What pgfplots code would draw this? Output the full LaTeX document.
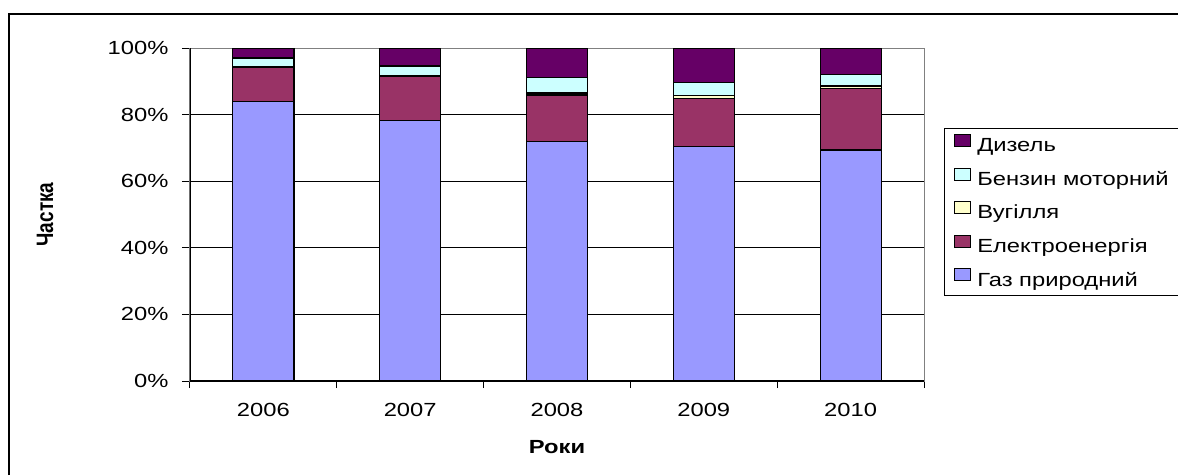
\documentclass[border=0pt]{standalone}
\usepackage{fontspec}
\setmainfont{Liberation Sans}
\usepackage{graphicx}
\usepackage{pgfplots}
\pgfplotsset{compat=1.18}
\definecolor{cgas}{HTML}{9999FF}
\definecolor{celec}{HTML}{993366}
\definecolor{ccoal}{HTML}{FFFFCC}
\definecolor{cbenz}{HTML}{CCFFFF}
\definecolor{cdies}{HTML}{660066}
\newcommand{\sx}[1]{\scalebox{1.25}[1]{#1}}
\newcommand{\fnt}{\fontsize{19}{22}\selectfont}
\begin{document}
\begin{tikzpicture}[x=1pt,y=1pt]
\useasboundingbox (0,0) rectangle (1178,475);
\draw[line width=2pt] (9,0) -- (9,461) -- (1178,461);
\begin{axis}[
  at={(190pt,94pt)}, anchor=south west,
  scale only axis, width=734pt, height=333pt,
  ybar stacked, bar width=61pt,
  xmin=-0.5, xmax=4.5, ymin=0, ymax=100,
  xtick={0,1,2,3,4},
  xticklabels={\sx{2006},\sx{2007},\sx{2008},\sx{2009},\sx{2010}},
  minor xtick={-0.5,0.5,1.5,2.5,3.5,4.5},
  ytick={0,20,40,60,80,100},
  xtick pos=bottom, ytick pos=left,
  /pgf/number format/assume math mode=true,
  yticklabel={\sx{\pgfmathprintnumber{\tick}\%}},
  tick align=outside,
  x tick style={draw=none},
  minor x tick style={draw=black, line width=1pt},
  minor tick length=7pt,
  y tick style={draw=black, line width=1pt},
  major tick length=8pt,
  ymajorgrids, grid style={black, line width=0.8pt},
  axis line style={draw=gray, line width=1pt},
  tick label style={font=\fnt},
  yticklabel style={xshift=-10pt},
  xticklabel style={yshift=-11pt},
  xlabel={\sx{\bfseries Роки}},
  ylabel={\scalebox{1}[1.25]{\bfseries Частка}},
  label style={font=\fnt},
  xlabel style={at={(axis description cs:0.5,-0.198)}, anchor=center},
  ylabel style={at={(axis description cs:-0.1975,0.5)}, anchor=center},
  legend style={at={(axis description cs:1.0272,0.7598)}, anchor=north west,
    draw=black, line width=1pt, font=\fnt, inner xsep=10pt, inner ysep=6pt,
    row sep=12.5pt, cells={anchor=west},
    /tikz/every odd column/.append style={column sep=4pt}},
  legend image code/.code={\draw[#1, draw=black, line width=0.8pt] (0pt,-1pt) rectangle (16pt,11pt);},
  reverse legend,
  every axis plot/.append style={draw=black, line width=1.2pt},
]
\addplot[fill=cgas] coordinates {(0,83.9) (1,78.2) (2,71.9) (3,70.4) (4,69.4)};
\addlegendentry{\sx{Газ природний}}
\addplot[fill=celec] coordinates {(0,10.4) (1,13.3) (2,14.0) (3,14.4) (4,18.4)};
\addlegendentry{\sx{Електроенергія}}
\addplot[fill=ccoal] coordinates {(0,0.2) (1,0.2) (2,0.6) (3,1.0) (4,0.8)};
\addlegendentry{\sx{Вугілля}}
\addplot[fill=cbenz] coordinates {(0,2.5) (1,2.9) (2,4.6) (3,3.8) (4,3.5)};
\addlegendentry{\sx{Бензин моторний}}
\addplot[fill=cdies] coordinates {(0,3.0) (1,5.4) (2,8.9) (3,10.4) (4,7.9)};
\addlegendentry{\sx{Дизель}}
\draw[black, line width=1.2pt] (rel axis cs:0,1) -- (rel axis cs:0,0) -- (rel axis cs:1,0);
\end{axis}
\end{tikzpicture}
\end{document}
